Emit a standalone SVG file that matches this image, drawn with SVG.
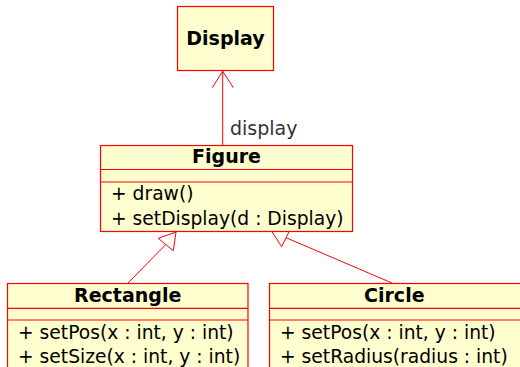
<svg xmlns="http://www.w3.org/2000/svg" width="520" height="367" viewBox="0 0 520 367">
<style>
.box{fill:#FEFECE;stroke:#FF0000;stroke-width:1.2}
.div{stroke:#FF0000;stroke-width:1.2}
.edge{stroke:#FF0000;stroke-width:1;fill:none}
.tri{stroke:#FF0000;stroke-width:1;fill:#FFFFFF}
.t{font-family:"DejaVu Sans",sans-serif;font-size:18.7px;fill:#000}
.b{font-weight:bold;text-anchor:middle;font-size:19px}
.lbl{font-family:"DejaVu Sans",sans-serif;font-size:19px;fill:#333333}
</style>
<rect width="520" height="367" fill="#FFFFFF"/>
<g id="connectors">
<line class="edge" x1="222.7" y1="145" x2="222.7" y2="71"/>
<polyline class="edge" points="212.3,87.7 222.7,71.2 233.3,87.7"/>
<text class="lbl" x="230" y="135">display</text>
<line class="edge" x1="128" y1="283" x2="165.8" y2="244.5"/>
<polygon class="tri" points="176,232 158.3,238.3 173.3,250.7"/>
<line class="edge" x1="392" y1="283" x2="286" y2="237.7"/>
<polygon class="tri" points="271.5,231 281.7,246.7 290.5,228.7"/>
</g>
<g id="Display">
<rect class="box" x="177.5" y="6.5" width="96" height="64"/>
<text class="t b" x="225.5" y="45">Display</text>
</g>
<g id="Figure">
<rect class="box" x="100.5" y="145.5" width="252" height="86"/>
<text class="t b" x="226.5" y="163">Figure</text>
<line class="div" x1="100.5" y1="169.5" x2="352.5" y2="169.5"/>
<line class="div" x1="100.5" y1="182" x2="352.5" y2="182"/>
<text class="t" x="111" y="200">+ draw()</text>
<text class="t" x="111" y="225">+ setDisplay(d : Display)</text>
</g>
<g id="Rectangle">
<rect class="box" x="7.5" y="283.5" width="240.5" height="100"/>
<text class="t b" x="127.7" y="301.7">Rectangle</text>
<line class="div" x1="7.5" y1="308.3" x2="248" y2="308.3"/>
<line class="div" x1="7.5" y1="320" x2="248" y2="320"/>
<text class="t" x="18" y="339.3">+ setPos(x : int, y : int)</text>
<text class="t" x="18" y="363">+ setSize(x : int, y : int)</text>
</g>
<g id="Circle">
<rect class="box" x="269.5" y="283.5" width="252" height="100"/>
<text class="t b" x="394.3" y="301.7">Circle</text>
<line class="div" x1="269.5" y1="308.3" x2="521" y2="308.3"/>
<line class="div" x1="269.5" y1="320" x2="521" y2="320"/>
<text class="t" x="280" y="339.3">+ setPos(x : int, y : int)</text>
<text class="t" x="280" y="363">+ setRadius(radius : int)</text>
</g>
</svg>
